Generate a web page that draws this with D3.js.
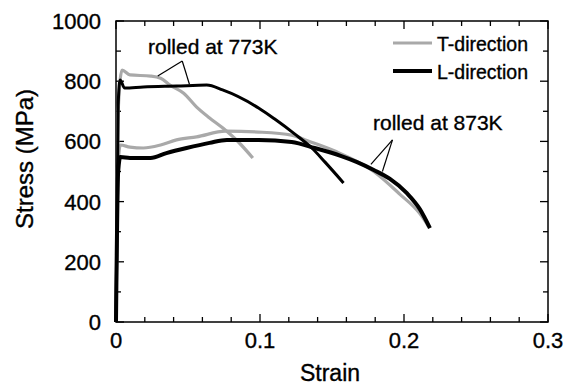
<!DOCTYPE html>
<html>
<head>
<meta charset="utf-8">
<script src="https://cdn.jsdelivr.net/npm/d3@7"></script>
<style>
  body { margin: 0; background: #fff; }
  text { font-family: "Liberation Sans", Arial, sans-serif; fill: #000; stroke: #000; stroke-width: 0.35px; }
</style>
</head>
<body>
<script>
// stress-strain curves, [strain, stress MPa]
var t773 = [[0, 0], [0.0015, 700], [0.0042, 837], [0.0097, 821], [0.024, 817], [0.031, 810],
    [0.0375, 787], [0.047, 760], [0.056, 714], [0.065, 678], [0.074, 645], [0.085, 598], [0.095, 545]];
var l773 = [[0, 0], [0.0015, 720], [0.0028, 804], [0.006, 777], [0.019, 781], [0.042, 784],
    [0.063, 787], [0.074, 771], [0.099, 711], [0.110, 675], [0.124, 625],
    [0.136, 578], [0.145, 532], [0.158, 462]];
var t873 = [[0, 0], [0.0015, 520], [0.003, 588], [0.0097, 581], [0.019, 578], [0.031, 588],
    [0.042, 605], [0.056, 615], [0.076, 634], [0.099, 631], [0.122, 621], [0.133, 602],
    [0.152, 568], [0.179, 500], [0.197, 425], [0.211, 360], [0.217, 318]];
var l873 = [[0, 0], [0.0015, 500], [0.003, 548], [0.0097, 545], [0.024, 545], [0.035, 561],
    [0.049, 578], [0.065, 595], [0.077, 605], [0.099, 605], [0.122, 598], [0.138, 578],
    [0.156, 552], [0.167, 532], [0.179, 505], [0.190, 476], [0.202, 428], [0.211, 375], [0.218, 312]];

var xTicks = [0, 0.1, 0.2, 0.3];
var yTicks = [0, 200, 400, 600, 800, 1000];
var seriesNames = ["T-direction", "L-direction"];

var margin = {top: 21, right: 33, bottom: 65, left: 116},
    width = 581 - margin.left - margin.right,
    height = 387 - margin.top - margin.bottom;

var x = d3.scaleLinear().domain([0, 0.3]).range([0, width]);
var y = d3.scaleLinear().domain([0, 1000]).range([height, 0]);

var svg = d3.select("body").append("svg")
    .attr("width", 581)
    .attr("height", 387)
    .append("g")
    .attr("transform", "translate(" + margin.left + "," + margin.top + ")");

// ticks, inward on all four sides
var xMinor = d3.range(0, 0.3001, 0.02);
var yMinor = d3.range(0, 1001, 100);
function xt(d) { return Math.abs(d * 10 - Math.round(d * 10)) < 1e-6 ? 8 : 5; }
function yt(d) { return d % 200 === 0 ? 8 : 5; }

var ticks = svg.append("g").attr("stroke", "#000").attr("stroke-width", 1.3);
xMinor.forEach(function(d) {
    ticks.append("line").attr("x1", x(d)).attr("x2", x(d)).attr("y1", height).attr("y2", height - xt(d));
    ticks.append("line").attr("x1", x(d)).attr("x2", x(d)).attr("y1", 0).attr("y2", xt(d));
});
yMinor.forEach(function(d) {
    ticks.append("line").attr("x1", 0).attr("x2", yt(d)).attr("y1", y(d)).attr("y2", y(d));
    ticks.append("line").attr("x1", width).attr("x2", width - yt(d)).attr("y1", y(d)).attr("y2", y(d));
});

svg.append("rect")
    .attr("width", width).attr("height", height)
    .attr("fill", "none").attr("stroke", "#000").attr("stroke-width", 1.5);

svg.selectAll(".xl").data(xTicks).enter().append("text")
    .attr("x", function(d) { return x(d); })
    .attr("y", height + 26)
    .attr("text-anchor", "middle")
    .style("font-size", "22px")
    .text(function(d) { return d === 0 ? "0" : d3.format(".1f")(d); });

svg.selectAll(".yl").data(yTicks).enter().append("text")
    .attr("x", -15)
    .attr("y", function(d) { return y(d) + 8; })
    .attr("text-anchor", "end")
    .style("font-size", "22px")
    .text(function(d) { return d; });

svg.append("text")
    .attr("x", width / 2 - 2)
    .attr("y", height + 59)
    .attr("text-anchor", "middle")
    .style("font-size", "23px")
    .text("Strain");
svg.append("text")
    .attr("transform", "translate(" + (-83) + "," + 138 + ") rotate(-90)")
    .attr("text-anchor", "middle")
    .style("font-size", "24px")
    .text("Stress (MPa)");

var line = d3.line()
    .x(function(d) { return x(d[0]); })
    .y(function(d) { return y(d[1]); })
    .curve(d3.curveMonotoneX);

var grey = "#a9a9a9";
[t773, t873].forEach(function(s) {
    svg.append("path").datum(s).attr("d", line).attr("fill", "none")
        .attr("stroke", grey).attr("stroke-width", 3.2).attr("stroke-linejoin", "round");
});
[l773, l873].forEach(function(s, i) {
    svg.append("path").datum(s).attr("d", line).attr("fill", "none")
        .attr("stroke", "#000").attr("stroke-width", i === 0 ? 3 : 4).attr("stroke-linejoin", "round");
});

// annotations
var notes = [
    {text: "rolled at 773K", tx: 0.0222, ty: 890, apex: [0.046, 867], ends: [[0.029, 817], [0.051, 790]]},
    {text: "rolled at 873K", tx: 0.1785, ty: 638, apex: [0.192, 605], ends: [[0.177, 524], [0.185, 500]]}
];
notes.forEach(function(n) {
    svg.append("text").attr("x", x(n.tx)).attr("y", y(n.ty))
        .style("font-size", "21px").text(n.text);
    n.ends.forEach(function(e) {
        svg.append("line").attr("x1", x(n.apex[0])).attr("y1", y(n.apex[1]))
            .attr("x2", x(e[0])).attr("y2", y(e[1]))
            .attr("stroke", "#000").attr("stroke-width", 1.2);
    });
});

// legend
var legend = svg.append("g").attr("transform", "translate(" + (width - 155) + ",22)");
seriesNames.forEach(function(name, i) {
    legend.append("line").attr("x1", 0).attr("x2", 39).attr("y1", i * 28).attr("y2", i * 28)
        .attr("stroke", i === 0 ? grey : "#000").attr("stroke-width", i === 0 ? 3 : 4);
    legend.append("text").attr("x", 44).attr("y", i * 28 + 8)
        .style("font-size", "19.5px").text(name);
});
</script>
</body>
</html>
